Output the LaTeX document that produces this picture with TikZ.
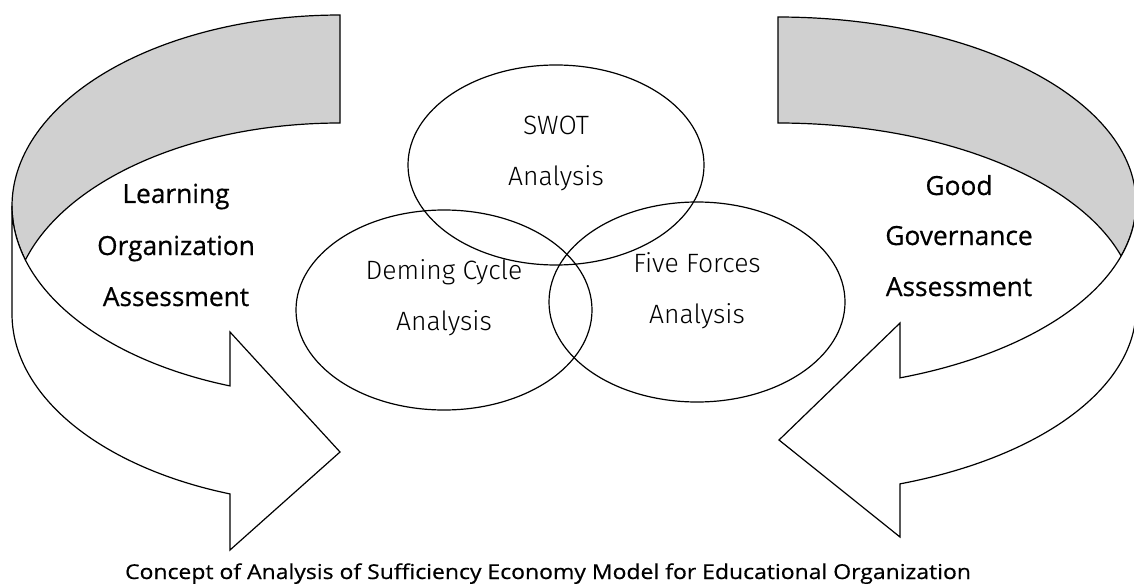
\documentclass[tikz,border=0pt]{standalone}
\usepackage{fontspec}
\setmainfont{Open Sans}
\IfFontExistsTF{Fira Sans Light}{\newfontfamily\lightfont{Fira Sans Light}}{\newfontfamily\lightfont{Open Sans}}
\IfFontExistsTF{Open Sans SemiBold}
  {\newfontfamily\semifont{Open Sans SemiBold}\newfontfamily\capfont{Open Sans SemiBold}[FakeStretch=1.12]}
  {\newfontfamily\semifont{Open Sans}[FakeBold=0.6]\newfontfamily\capfont{Open Sans}[FakeBold=0.6,FakeStretch=1.12]}
\usetikzlibrary{shapes.geometric}
\definecolor{bandgray}{RGB}{208,208,208}
\tikzset{
  band/.style={draw=black, line width=1.2pt, line join=miter},
  venn/.style={ellipse, draw=black, line width=1.2pt, minimum width=296pt, minimum height=200pt, inner sep=0pt},
  venntext/.style={font=\lightfont\fontsize{26.5}{32}\selectfont, anchor=base, inner sep=0pt},
  labeltext/.style={font=\semifont\fontsize{26.3}{30}\selectfont, anchor=base, inner sep=0pt},
  captiontext/.style={font=\capfont\fontsize{20.5}{24}\selectfont, anchor=base, inner sep=0pt},
}
\begin{document}
\begin{tikzpicture}[x=1pt, y=-1pt]
\useasboundingbox (0,0) rectangle (1134,585);

% ---------- left curved arrow ----------
% back (grey) inner face
\path[band, fill=bandgray]
  plot[domain=90:196.42, samples=80, variable=\t] ({340+328*cos(\t)},{206-191*sin(\t)})
  -- plot[domain=163.58:90, samples=80, variable=\t] ({340+328*cos(\t)},{314-191*sin(\t)})
  -- cycle;
% front face with arrow head
\path[band, fill=white]
  plot[domain=180:250.4, samples=80, variable=\t] ({340+328*cos(\t)},{206-191*sin(\t)})
  -- (230,332) -- (340,452) -- (230,550)
  -- plot[domain=250.4:180, samples=80, variable=\t] ({340+328*cos(\t)},{314-191*sin(\t)})
  -- cycle;

% ---------- right curved arrow ----------
\path[band, fill=bandgray]
  plot[domain=90:-16.56, samples=80, variable=\t] ({778+358*cos(\t)},{203-186*sin(\t)})
  -- plot[domain=16.56:90, samples=80, variable=\t] ({778+358*cos(\t)},{309-186*sin(\t)})
  -- cycle;
\path[band, fill=white]
  plot[domain=0:-70.07, samples=80, variable=\t] ({778+358*cos(\t)},{203-186*sin(\t)})
  -- (900,323) -- (779,440) -- (900,537)
  -- plot[domain=-70.07:0, samples=80, variable=\t] ({778+358*cos(\t)},{309-186*sin(\t)})
  -- cycle;

% ---------- three ellipses ----------
\node[venn] (swot) at (556,165) {};
\node[venn] (deming) at (444,310) {};
\node[venn] (five) at (697,302) {};

\node[venntext] (swot1) at (556,135) {SWOT};
\node[venntext] (swot2) at (556,186) {Analysis};
\node[venntext] (dem1) at (444,279) {Deming Cycle};
\node[venntext] (dem2) at (444,330) {Analysis};
\node[venntext] (five1) at (697,272) {Five Forces};
\node[venntext] (five2) at (697,323) {Analysis};

% ---------- side labels ----------
\node[labeltext] (lo1) at (176,203) {Learning};
\node[labeltext] (lo2) at (176,255) {Organization};
\node[labeltext] (lo3) at (176,306) {Assessment};
\node[labeltext] (gg1) at (959,195) {Good};
\node[labeltext] (gg2) at (959,245) {Governance};
\node[labeltext] (gg3) at (959,296) {Assessment};

% ---------- caption ----------
\node[captiontext] (cap) at (548,579) {Concept of Analysis of Sufficiency Economy Model for Educational Organization};
\end{tikzpicture}
\end{document}
